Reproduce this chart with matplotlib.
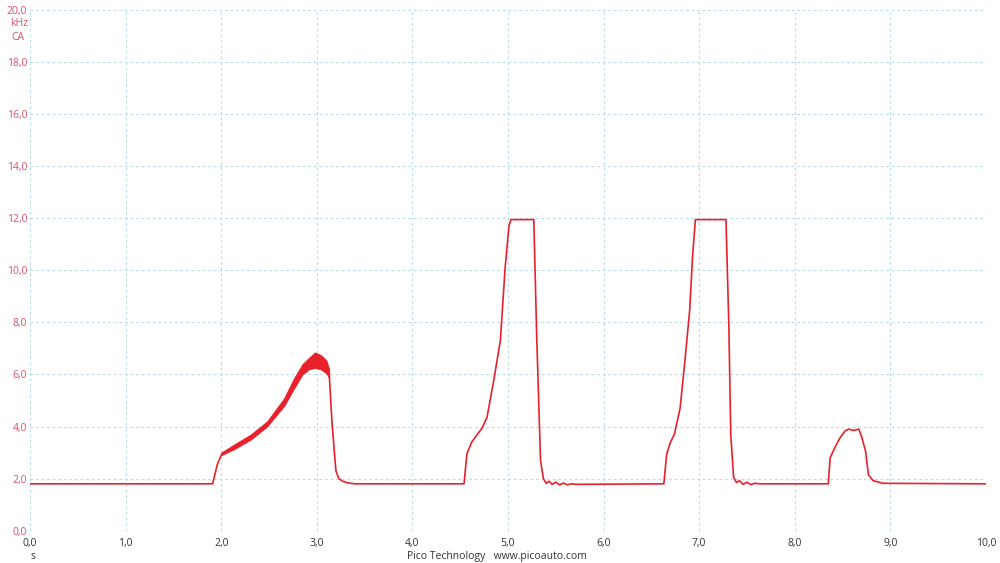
import matplotlib.pyplot as plt
import numpy as np

# trace readings (s, kHz)
t = [0.0, 1.91, 1.96, 2.0, 2.06, 2.13, 2.22, 2.31, 2.40, 2.48, 2.57, 2.66, 2.76,
     2.83, 2.90, 2.96, 3.01, 3.06, 3.09, 3.13, 3.16, 3.20, 3.23, 3.27, 3.32, 3.40,
     4.54, 4.57, 4.62, 4.68, 4.73, 4.78, 4.85, 4.92, 4.97, 5.01, 5.03, 5.27,
     5.30, 5.34, 5.37, 5.40, 5.43, 5.46, 5.50, 5.54, 5.58, 5.62, 5.66, 5.72,
     6.63, 6.66, 6.70, 6.74, 6.80, 6.85, 6.90, 6.93, 6.96, 7.28,
     7.31, 7.33, 7.36, 7.39, 7.42, 7.46, 7.50, 7.54, 7.58, 7.64,
     8.35, 8.37, 8.42, 8.47, 8.53, 8.57, 8.61, 8.67, 8.70, 8.74, 8.77, 8.82, 8.92, 10.0]
f = [1.8, 1.8, 2.55, 2.9, 3.05, 3.2, 3.35, 3.6, 3.85, 4.1, 4.5, 4.95, 5.6,
     6.1, 6.4, 6.5, 6.55, 6.45, 6.3, 6.0, 4.1, 2.3, 2.0, 1.9, 1.84, 1.8,
     1.8, 2.95, 3.4, 3.7, 3.95, 4.35, 5.75, 7.3, 10.1, 11.7, 11.95, 11.95,
     7.5, 2.7, 2.0, 1.82, 1.9, 1.78, 1.86, 1.76, 1.83, 1.76, 1.8, 1.78,
     1.8, 2.95, 3.4, 3.7, 4.7, 6.5, 8.45, 10.5, 11.95, 11.95,
     7.9, 3.7, 2.05, 1.85, 1.92, 1.78, 1.86, 1.77, 1.82, 1.8,
     1.8, 2.8, 3.2, 3.55, 3.85, 3.9, 3.85, 3.9, 3.6, 3.05, 2.15, 1.92, 1.82, 1.8]

# noisy band around first hump
band_t = [2.0, 2.13, 2.31, 2.48, 2.66, 2.76, 2.85, 2.92, 2.98, 3.04, 3.10, 3.13]
band_lo = [2.9, 3.12, 3.5, 4.0, 4.8, 5.45, 6.0, 6.2, 6.25, 6.2, 6.05, 5.85]
band_hi = [3.0, 3.3, 3.7, 4.2, 5.1, 5.85, 6.4, 6.65, 6.85, 6.75, 6.55, 6.2]

x_ticks = [0, 1, 2, 3, 4, 5, 6, 7, 8, 9, 10]
y_ticks = [0, 2, 4, 6, 8, 10, 12, 14, 16, 18, 20]

RED = '#e8212d'
AXIS_RED = '#d8506a'
GRID = '#bcdde8'

fig = plt.figure(figsize=(10, 5.63), dpi=100)
ax = fig.add_axes([0.030, 0.0574, 0.956, 0.9248])

ax.plot(t, f, color=RED, linewidth=1.2, zorder=3)
ax.fill_between(band_t, band_lo, band_hi, color=RED, linewidth=0.6, zorder=3)

ax.set_xlim(0, 10)
ax.set_ylim(0, 20)
ax.set_xticks(x_ticks)
ax.set_yticks(y_ticks)
ax.set_xticklabels([f'{v:.1f}'.replace('.', ',') for v in x_ticks],
                   fontsize=7.5, color='#333333', family='Open Sans')
ax.set_yticklabels([f'{v:.1f}'.replace('.', ',') for v in y_ticks],
                   fontsize=7.5, color=AXIS_RED, family='Open Sans')
ax.tick_params(axis='both', length=0, pad=2)
ax.tick_params(axis='x', pad=5)

for s in ax.spines.values():
    s.set_visible(False)
ax.grid(True, color=GRID, linestyle=(0, (2.5, 2.5)), linewidth=0.8)

fig.text(0.028, 0.958, 'kHz', ha='right', va='center', fontsize=7.5,
         color=AXIS_RED, family='Open Sans')
fig.text(0.024, 0.934, 'CA', ha='right', va='center', fontsize=7.5,
         color=AXIS_RED, family='Open Sans')
fig.text(0.033, 0.011, 's', ha='center', va='center', fontsize=7.5,
         color='#333333', family='Open Sans')
fig.text(0.497, 0.011, 'Pico Technology   www.picoauto.com', ha='center',
         va='center', fontsize=7.5, color='#333333', family='Open Sans')

fig.savefig('out.png', dpi=100)
